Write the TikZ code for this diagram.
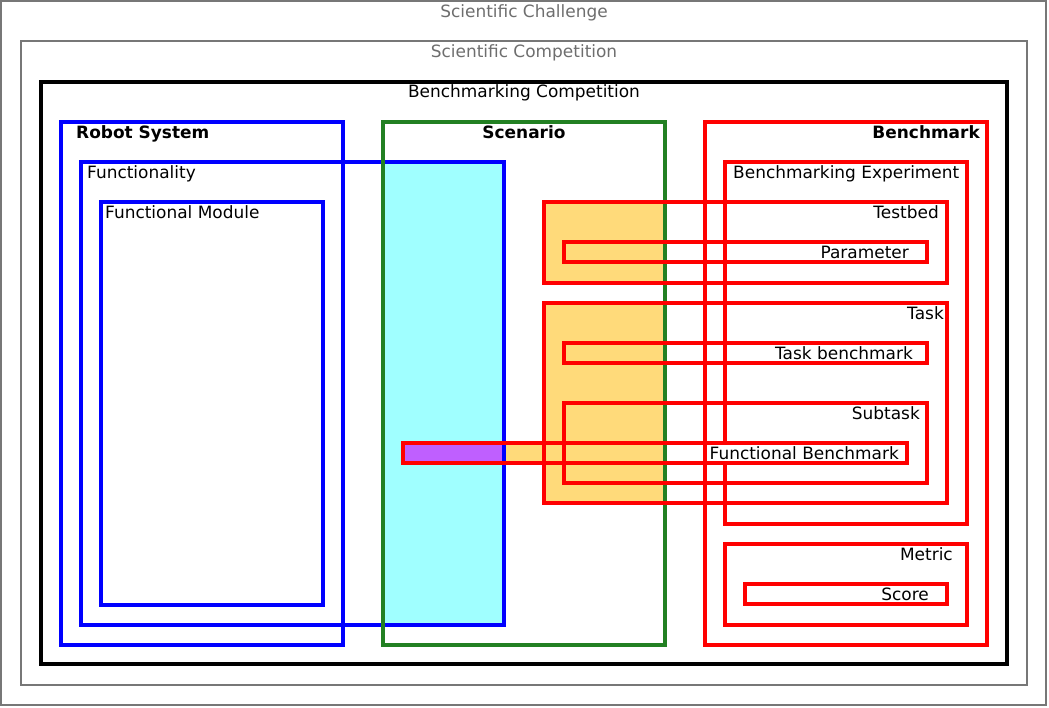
\documentclass[tikz,border=0pt]{standalone}
\usepackage{fontspec}
\setmainfont{DejaVu Sans}
\usetikzlibrary{fit}
\definecolor{gline}{RGB}{119,119,119}
\definecolor{gtext}{RGB}{110,110,110}
\definecolor{bline}{RGB}{0,0,255}
\definecolor{rline}{RGB}{255,0,0}
\definecolor{grline}{RGB}{34,128,34}
\definecolor{cyanf}{RGB}{160,255,255}
\definecolor{orangef}{RGB}{255,218,122}
\definecolor{purplef}{RGB}{191,95,255}
\begin{document}
\begin{tikzpicture}[x=1pt,y=-1pt,
  every node/.style={font=\fontsize{16.95}{20}\selectfont},
  boxbase/.style={inner sep=0pt, line width=3.1pt},
  gbox/.style={boxbase, draw=gline, line width=2.2pt},
  kbox/.style={boxbase, draw=black, line width=4.2pt},
  bbox/.style={boxbase, draw=bline},
  rbox/.style={boxbase, draw=rline},
  grbox/.style={boxbase, draw=grline},
  lbl/.style={inner sep=0pt},
  lblb/.style={inner sep=0pt, font=\fontsize{16.95}{20}\selectfont\bfseries},
]
\useasboundingbox[fill=white] (0,0) rectangle (1049,707);
% fills (intersections)
\fill[cyanf] (383,162) rectangle (504,625);
\fill[orangef] (544,202) rectangle (665,283);
\fill[orangef] (544,303) rectangle (665,503);
\fill[orangef] (504,443) rectangle (544,463);
\fill[purplef] (403,443) rectangle (504,463);
% frames
\node[gbox, fit={(1,1) (1046,705)}] (chal) {};
\node[gbox, fit={(21,41) (1027,685)}] (comp) {};
\node[kbox, fit={(41,82) (1007,664)}] (bcomp) {};
% robot side
\node[bbox, fit={(61,122) (343,645)}] (robot) {};
\node[bbox, fit={(81,162) (504,625)}] (func) {};
\node[bbox, fit={(101,202) (323,605)}] (fmod) {};
% scenario
\node[grbox, fit={(383,122) (665,645)}] (scen) {};
% benchmark side
\node[rbox, fit={(705,122) (987,645)}] (bench) {};
\node[rbox, fit={(725,162) (967,524)}] (bexp) {};
\node[rbox, fit={(544,202) (947,283)}] (testbed) {};
\node[rbox, fit={(564,242) (927,262)}] (param) {};
\node[rbox, fit={(544,303) (947,503)}] (task) {};
\node[rbox, fit={(564,343) (927,363)}] (taskb) {};
\node[rbox, fit={(564,403) (927,483)}] (subtask) {};
\node[rbox, fit={(725,544) (967,625)}] (metric) {};
\node[rbox, fit={(745,584) (947,604)}] (score) {};
% labels
\node[lbl, text=gtext, anchor=base] (lchal) at (524,17.5) {Scientific Challenge};
\node[lbl, text=gtext, anchor=base] (lcomp) at (524,57.5) {Scientific Competition};
\node[lbl, anchor=base] (lbcomp) at (524,97.5) {Benchmarking Competition};
\node[lblb, anchor=base west] (lrobot) at (76,138) {Robot System};
\node[lbl, anchor=base west] (lfunc) at (87,178) {Functionality};
\node[lbl, anchor=base west] (lfmod) at (105,218) {Functional Module};
\node[lblb, anchor=base] (lscen) at (524,138) {Scenario};
\node[lblb, anchor=base east] (lbench) at (980,138) {Benchmark};
\node[lbl, anchor=base west] (lbexp) at (733,178) {Benchmarking Experiment};
\node[lbl, anchor=base east] (ltestbed) at (939,218) {Testbed};
\node[lbl, anchor=base east] (lparam) at (909,258) {Parameter};
\node[lbl, anchor=base east] (ltask) at (944,319) {Task};
\node[lbl, anchor=base east] (ltaskb) at (913,359) {Task benchmark};
\node[lbl, anchor=base east] (lsubtask) at (920,419) {Subtask};
\node[lbl, anchor=base east] (lmetric) at (953,560) {Metric};
\node[lbl, anchor=base east] (lscore) at (929,600) {Score};
\node[anchor=base east, fill=white, inner xsep=3pt, inner ysep=3pt] (lfbench) at (902,459) {Functional Benchmark};
\node[rbox, fit={(403,443) (907,463)}] (fbench) {};
\end{tikzpicture}
\end{document}
